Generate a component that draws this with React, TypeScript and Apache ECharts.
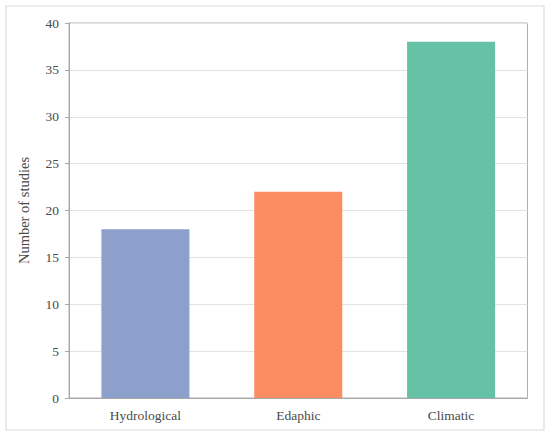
import React, { useEffect, useRef } from "react";
import * as echarts from "echarts";

const categories = ["Hydrological", "Edaphic", "Climatic"];
const values = [18, 22, 38];
const barColors = ["#8DA0CB", "#FC8D62", "#66C2A5"];
const yTicks = { min: 0, max: 40, interval: 5 };

export default function App() {
  const ref = useRef<HTMLDivElement>(null);
  useEffect(() => {
    if (!ref.current) return;
    const chart = echarts.init(ref.current, null, { renderer: "svg" });
    const font = "Liberation Serif";
    chart.setOption({
      animation: false,
      textStyle: { fontFamily: font },
      graphic: [
        {
          type: "rect",
          shape: { x: 6, y: 6, width: 538, height: 424 },
          style: { fill: "none", stroke: "#dcdcdc", lineWidth: 1.2 },
          silent: true,
        },
      ],
      grid: {
        left: 69,
        top: 23,
        right: 22.5,
        bottom: 38,
        show: true,
        borderColor: "#b0b0b0",
        borderWidth: 1,
      },
      xAxis: {
        type: "category",
        data: categories,
        axisLine: { show: true, lineStyle: { color: "#a8a8a8", width: 1 } },
        axisTick: { show: false },
        axisLabel: { color: "#4a4a4a", fontSize: 13.5, fontFamily: font, margin: 10 },
      },
      yAxis: {
        type: "value",
        min: yTicks.min,
        max: yTicks.max,
        interval: yTicks.interval,
        name: "Number of studies",
        nameLocation: "middle",
        nameGap: 38,
        nameTextStyle: { color: "#4a4a4a", fontSize: 14.5, fontFamily: font },
        axisLine: { show: true, lineStyle: { color: "#a8a8a8" } },
        axisTick: { show: true, length: 4, lineStyle: { color: "#a8a8a8" } },
        axisLabel: { color: "#4a4a4a", fontSize: 13.5, fontFamily: font, margin: 10 },
        splitLine: { show: true, lineStyle: { color: "#e3e3e3", width: 1 } },
      },
      series: [
        {
          type: "bar",
          data: values.map((v, i) => ({ value: v, itemStyle: { color: barColors[i] } })),
          barWidth: "57.6%",
        },
      ],
    });
    return () => chart.dispose();
  }, []);
  return (
    <div
      ref={ref}
      style={{ position: "fixed", left: 0, top: 0, width: 550, height: 436, background: "#fff" }}
    />
  );
}
